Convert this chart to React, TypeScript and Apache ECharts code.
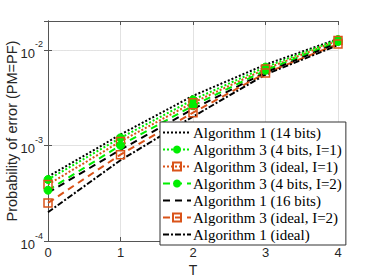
import React, { useEffect, useRef } from "react";
import * as echarts from "echarts";

const xValues = [0, 1, 2, 3, 4];
const seriesNames = [
  "Algorithm 1 (14 bits)",
  "Algorithm 3 (4 bits, I=1)",
  "Algorithm 3 (ideal, I=1)",
  "Algorithm 3 (4 bits, I=2)",
  "Algorithm 1 (16 bits)",
  "Algorithm 3 (ideal, I=2)",
  "Algorithm 1 (ideal)",
];
const alg1_14 = [4.7e-4, 1.3e-3, 3.3e-3, 7.0e-3, 1.3e-2];
const alg3_4b_I1 = [4.4e-4, 1.2e-3, 3.0e-3, 6.6e-3, 1.28e-2];
const alg3_id_I1 = [3.9e-4, 1.1e-3, 2.8e-3, 6.3e-3, 1.25e-2];
const alg3_4b_I2 = [3.4e-4, 1.0e-3, 2.6e-3, 6.1e-3, 1.22e-2];
const alg1_16 = [3.2e-4, 9.0e-4, 2.4e-3, 5.8e-3, 1.18e-2];
const alg3_id_I2 = [2.5e-4, 8.0e-4, 2.2e-3, 5.7e-3, 1.15e-2];
const alg1_ideal = [2.0e-4, 7.0e-4, 2.0e-3, 5.5e-3, 1.12e-2];
const yMin = 1e-4;
const yMax = 2e-2;

const GREEN = "#00ee00";
const ORANGE = "#D95319";
const BLACK = "#000000";

export default function App() {
  const ref = useRef<HTMLDivElement>(null);
  useEffect(() => {
    if (!ref.current) return;
    const chart = echarts.init(ref.current, undefined, { renderer: "svg" });
    const minor: number[] = [];
    for (let e = -4; e <= -2; e++) {
      for (let m = 2; m <= 9; m++) {
        const v = m * Math.pow(10, e);
        if (v < yMax * 0.999) minor.push(v);
      }
    }
    const pair = (arr: number[]) => xValues.map((x, i) => [x, arr[i]]);
    const mk = (
      name: string,
      data: number[],
      color: string,
      dash: number[],
      symbol: string,
      filled: boolean
    ): any => ({
      name,
      type: "line",
      data: pair(data),
      symbol,
      symbolSize: 8,
      showSymbol: symbol !== "none",
      itemStyle: filled
        ? { color, borderColor: color }
        : { color: "rgba(255,255,255,0)", borderColor: color, borderWidth: 1.5 },
      lineStyle: { color, width: 2, type: dash },
      z: 3,
    });
    const hasSymbol = [false, true, true, true, false, true, false];
    const series: any[] = [
      mk(seriesNames[0], alg1_14, BLACK, [2, 2], "none", true),
      mk(seriesNames[1], alg3_4b_I1, GREEN, [2, 2], "circle", true),
      mk(seriesNames[2], alg3_id_I1, ORANGE, [2, 2], "rect", false),
      mk(seriesNames[3], alg3_4b_I2, GREEN, [7, 5], "circle", true),
      mk(seriesNames[4], alg1_16, BLACK, [7, 5], "none", true),
      mk(seriesNames[5], alg3_id_I2, ORANGE, [7, 5], "rect", false),
      mk(seriesNames[6], alg1_ideal, BLACK, [6, 2, 2, 2], "none", true),
    ];
    series[0].markLine = {
      silent: true,
      symbol: "none",
      label: { show: false },
      lineStyle: { color: "#e4e4e4", type: [1, 2], width: 1 },
      data: minor.map((v) => ({ yAxis: v })),
      z: 0,
    };
    const tickFont = { fontFamily: "Liberation Sans", fontSize: 13, color: "#262626" };
    chart.setOption({
      animation: false,
      backgroundColor: "#ffffff",
      grid: { left: 48, right: 36, top: 21, bottom: 39, containLabel: false, outerBoundsMode: "none" },
      legend: {
        orient: "vertical",
        left: 160,
        top: 122,
        padding: [3, 4, 3, 2],
        itemGap: 2,
        itemWidth: 28,
        itemHeight: 10,
        backgroundColor: "#ffffff",
        borderColor: "#333333",
        borderWidth: 1,
        textStyle: {
          fontFamily: "Liberation Serif",
          fontSize: 15,
          color: "#000000",
          padding: [0, 0, 0, -3],
        },
        data: seriesNames.map((n, i) =>
          hasSymbol[i] ? { name: n } : { name: n, itemStyle: { opacity: 0 } }
        ),
      },
      xAxis: [
        {
          type: "value",
          min: 0,
          max: 4,
          interval: 1,
          name: "T",
          nameLocation: "middle",
          nameGap: 22,
          nameMoveOverlap: false,
          nameTextStyle: { fontFamily: "Liberation Sans", fontSize: 14, color: "#262626", verticalAlign: "top" },
          axisLine: { show: true, lineStyle: { color: "#555555" } },
          axisTick: { inside: true, length: 4, lineStyle: { color: "#555555" } },
          axisLabel: { ...tickFont, margin: 5 },
          splitLine: { show: true, lineStyle: { color: "#e2e2e2" } },
        },
        {
          type: "value",
          min: 0,
          max: 4,
          interval: 1,
          position: "top",
          axisLine: { show: true, onZero: false, lineStyle: { color: "#555555" } },
          axisTick: { inside: true, length: 4, lineStyle: { color: "#555555" } },
          axisLabel: { show: false },
          splitLine: { show: false },
        },
      ],
      yAxis: [
        {
          type: "log",
          logBase: 10,
          min: yMin,
          max: yMax,
          name: "Probability of error (PM=PF)",
          nameLocation: "middle",
          nameGap: 29,
          nameMoveOverlap: false,
          nameTextStyle: { fontFamily: "Liberation Sans", fontSize: 14.5, color: "#262626" },
          axisLine: { show: true, lineStyle: { color: "#555555" } },
          axisTick: { inside: true, length: 4, lineStyle: { color: "#555555" } },
          axisLabel: {
            margin: 5,
            showMaxLabel: false,
            formatter: (v: number) => {
              const e = Math.round(Math.log10(v));
              if (Math.abs(v - Math.pow(10, e)) / v > 1e-6) return "";
              return `{b|10}{s|${e}}`;
            },
            rich: {
              b: { fontFamily: "Liberation Sans", fontSize: 13, color: "#262626", verticalAlign: "bottom", lineHeight: 20 },
              s: { fontFamily: "Liberation Sans", fontSize: 9, color: "#262626", verticalAlign: "top", lineHeight: 20 },
            },
          },
          splitLine: { show: true, lineStyle: { color: "#e2e2e2" } },
        },
        {
          type: "log",
          logBase: 10,
          min: yMin,
          max: yMax,
          position: "right",
          axisLine: { show: true, lineStyle: { color: "#555555" } },
          axisTick: { inside: true, length: 4, lineStyle: { color: "#555555" } },
          axisLabel: { show: false },
          splitLine: { show: false },
        },
      ],
      series,
    });
    return () => chart.dispose();
  }, []);
  return <div ref={ref} style={{ width: 374, height: 280, position: "absolute", left: 0, top: 0 }} />;
}
